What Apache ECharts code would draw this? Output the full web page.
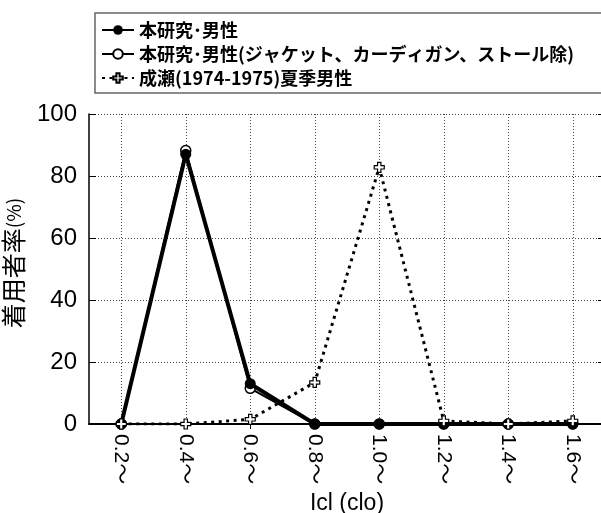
<!DOCTYPE html>
<html>
<head>
<meta charset="utf-8">
<script src="https://cdn.jsdelivr.net/npm/echarts@6/dist/echarts.min.js"></script>
<style>
  html, body { margin: 0; padding: 0; background: #fff; }
  #chart { width: 601px; height: 513px; }
</style>
</head>
<body>
<div id="chart"></div>
<script>
// Clothing insulation classes (clo)
const categories = ['0.2～', '0.4～', '0.6～', '0.8～', '1.0～', '1.2～', '1.4～', '1.6～'];

// Share of wearers (%) per class
const studyMen = [0, 87, 13, 0, 0, 0, 0, 0];
const studyMenNoOuter = [0, 88.2, 11.5, 0, 0, 0, 0, 0];
const naruseSummerMen = [0, 0, 1.5, 13.4, 82.8, 1, 0, 1];

const seriesNames = [
  '本研究･男性',
  '本研究･男性(ジャケット、カーディガン、ストール除)',
  '成瀬(1974-1975)夏季男性'
];

const yTicks = { min: 0, max: 100, interval: 20 };

const latin = '"Liberation Sans", Arial, "Noto Sans CJK JP", sans-serif';
const cjk = '"Noto Sans CJK JP", sans-serif';

const plusSymbol = 'path://M3,0H6V3H9V6H6V9H3V6H0V3H3Z';

const chart = echarts.init(document.getElementById('chart'), null, { renderer: 'canvas' });

const gridStyle = { color: '#444', width: 1, type: [1, 2] };

chart.setOption({
  animation: false,
  backgroundColor: '#fff',
  grid: { left: 89, top: 114, width: 516, height: 310, containLabel: false, outerBoundsMode: 'none' },
  graphic: [{
    type: 'rect',
    shape: { x: 95, y: 13, width: 520, height: 80 },
    style: { fill: 'none', stroke: '#666', lineWidth: 1.5 },
    z: 1
  }],
  legend: {
    orient: 'vertical',
    left: 101,
    top: 20,
    padding: 0,
    itemWidth: 32,
    itemHeight: 12,
    itemGap: 4,
    data: seriesNames,
    textStyle: { fontFamily: cjk, fontWeight: 'bold', fontSize: 18, lineHeight: 20, color: '#000' }
  },
  xAxis: [{
    type: 'category',
    data: categories,
    boundaryGap: true,
    position: 'bottom',
    name: 'Icl (clo)',
    nameLocation: 'middle',
    nameGap: 65,
    nameTextStyle: { fontFamily: latin, fontSize: 23, color: '#000' },
    axisLine: { lineStyle: { color: '#000', width: 2 } },
    axisTick: { show: false },
    axisLabel: {
      rotate: -90,
      margin: 10,
      fontFamily: latin,
      fontSize: 21,
      color: '#000',
      interval: 0
    },
    splitLine: { show: true, alignWithLabel: true, lineStyle: gridStyle }
  }, {
    type: 'category',
    data: categories,
    boundaryGap: true,
    position: 'top',
    axisLine: { show: false },
    axisTick: { show: true, inside: true, alignWithLabel: true, length: 5, lineStyle: { color: '#000' } },
    axisLabel: { show: false },
    splitLine: { show: false }
  }],
  yAxis: [{
    type: 'value',
    min: yTicks.min,
    max: yTicks.max,
    interval: yTicks.interval,
    position: 'left',
    name: '{a|着用者率}{b|(%)}',
    nameLocation: 'middle',
    nameRotate: 90,
    nameGap: 57,
    nameTextStyle: {
      padding: [0, 0, 0, 12],
      rich: {
        a: { fontFamily: cjk, fontSize: 25, color: '#000' },
        b: { fontFamily: cjk, fontSize: 19, color: '#000' }
      }
    },
    axisLine: { show: true, lineStyle: { color: '#000', width: 1.5 } },
    axisTick: { show: true, inside: true, length: 7, lineStyle: { color: '#000' } },
    axisLabel: { fontFamily: latin, fontSize: 24, color: '#000', margin: 12 },
    splitLine: { show: true, lineStyle: gridStyle }
  }, {
    type: 'value',
    min: yTicks.min,
    max: yTicks.max,
    interval: yTicks.interval,
    position: 'right',
    axisLine: { show: false },
    axisTick: { show: true, inside: true, length: 7, lineStyle: { color: '#000' } },
    axisLabel: { show: false },
    splitLine: { show: false }
  }],
  series: [{
    name: seriesNames[0],
    type: 'line',
    data: studyMen,
    z: 3,
    symbol: 'circle',
    symbolSize: 11,
    lineStyle: { color: '#000', width: 4 },
    itemStyle: { color: '#000', borderColor: '#000', borderWidth: 0 }
  }, {
    name: seriesNames[1],
    type: 'line',
    data: studyMenNoOuter,
    z: 2,
    symbol: 'circle',
    symbolSize: 10,
    lineStyle: { color: '#000', width: 2 },
    itemStyle: { color: '#fff', borderColor: '#000', borderWidth: 1.5 }
  }, {
    name: seriesNames[2],
    type: 'line',
    data: naruseSummerMen,
    z: 4,
    symbol: plusSymbol,
    symbolSize: 10,
    lineStyle: { color: '#000', width: 3, type: [3, 4.5], cap: 'butt' },
    itemStyle: { color: '#fff', borderColor: '#000', borderWidth: 1.2 }
  }]
});
</script>
</body>
</html>
